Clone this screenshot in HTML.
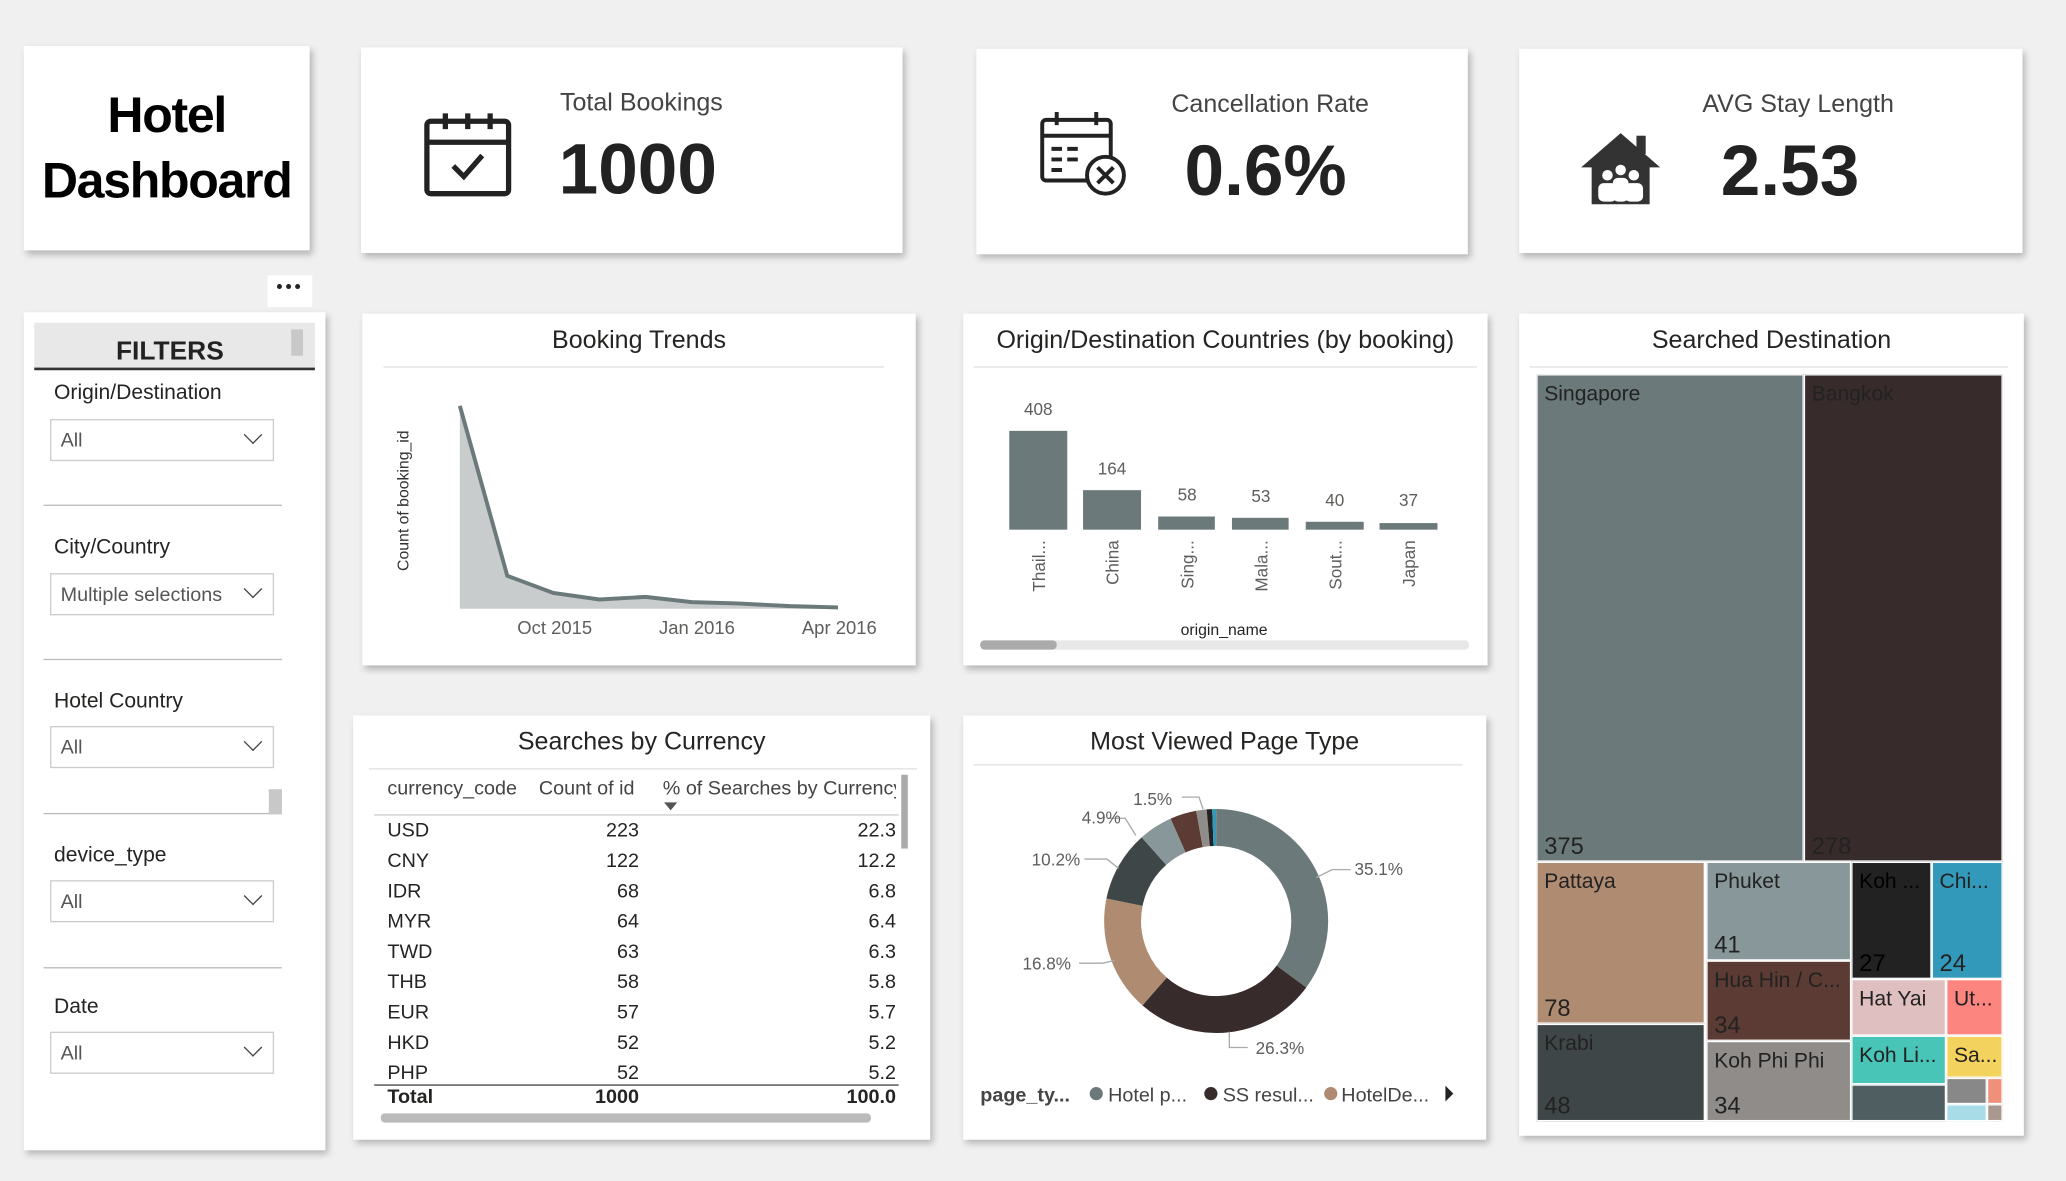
<!DOCTYPE html>
<html><head><meta charset="utf-8"><style>
*{margin:0;padding:0;box-sizing:border-box}
html,body{width:2066px;height:1180px;overflow:hidden;background:#f0f0f0}
#s{position:absolute;left:0;top:0;width:1568px;height:896px;transform:scale(1.31760);transform-origin:0 0;font-family:"Liberation Sans","DejaVu Sans",sans-serif;color:#252423}
.c{position:absolute;background:#fff;box-shadow:2px 3px 5px rgba(0,0,0,.25)}
.a{position:absolute;white-space:nowrap}
.t{position:absolute;font-size:19px;color:#252423;text-align:center;width:100%;top:10px}
.hl{position:absolute;height:1px;background:#e1e1e1}
.dd{position:absolute;left:38px;width:170px;height:32px;border:1px solid #ccc;font-size:15px;color:#555;padding:7px 0 0 7px}
.dd:after{content:"";position:absolute;right:10px;top:6px;width:9px;height:9px;border-right:1.5px solid #444;border-bottom:1.5px solid #444;transform:rotate(45deg)}
.fl{position:absolute;left:41px;font-size:16px;color:#252423}
.sep{position:absolute;left:33px;width:181px;height:1px;background:#bbb}
.tm{position:absolute;border:1px solid #fff;font-size:16px;color:#222;overflow:hidden}
.tm span{position:absolute;left:5px;top:6px}
.tm b{position:absolute;left:5px;bottom:0;font-weight:normal;font-size:18px}
.row{position:absolute;left:294px;width:386px;font-size:15px;height:23px}
.row span{position:absolute}
</style></head><body><div id="s">
<div class="c" style="left:18px;top:35px;width:217px;height:155px"><div class="a" style="left:0;width:100%;text-align:center;top:28px;font-size:38px;font-weight:bold;line-height:50px;color:#000;letter-spacing:-1px">Hotel<br>Dashboard</div></div>
<div class="c" style="left:274px;top:36px;width:411px;height:156px">
<svg class="a" style="left:47px;top:48px" width="68" height="66" viewBox="0 0 68 66"><rect x="3" y="8" width="62" height="55" rx="3" fill="none" stroke="#222" stroke-width="4"/><line x1="3" y1="24" x2="65" y2="24" stroke="#222" stroke-width="4"/><line x1="17" y1="2" x2="17" y2="14" stroke="#222" stroke-width="4"/><line x1="51" y1="2" x2="51" y2="14" stroke="#222" stroke-width="4"/><line x1="34" y1="2" x2="34" y2="14" stroke="#222" stroke-width="4"/><polyline points="23,42 31,50 45,34" fill="none" stroke="#222" stroke-width="4"/></svg>
<div class="a" style="left:151px;top:32px;font-size:19px;color:#444">Total Bookings</div>
<div class="a" style="left:150px;top:62px;font-size:54px;font-weight:bold;color:#222">1000</div></div>
<div class="c" style="left:741px;top:37px;width:373px;height:156px">
<svg class="a" style="left:47px;top:46px" width="70" height="68" viewBox="0 0 70 68"><rect x="3" y="8" width="52" height="46" rx="3" fill="none" stroke="#222" stroke-width="3"/><line x1="3" y1="20" x2="55" y2="20" stroke="#222" stroke-width="3"/><line x1="14" y1="2" x2="14" y2="12" stroke="#222" stroke-width="3"/><line x1="44" y1="2" x2="44" y2="12" stroke="#222" stroke-width="3"/><g stroke="#222" stroke-width="3"><line x1="10" y1="30" x2="18" y2="30"/><line x1="22" y1="30" x2="30" y2="30"/><line x1="10" y1="38" x2="18" y2="38"/><line x1="22" y1="38" x2="30" y2="38"/><line x1="10" y1="46" x2="18" y2="46"/></g><circle cx="51" cy="50" r="14" fill="#fff" stroke="#222" stroke-width="3"/><path d="M45 44l12 12M57 44l-12 12" stroke="#222" stroke-width="3"/></svg>
<div class="a" style="left:148px;top:32px;font-size:19px;color:#444">Cancellation Rate</div>
<div class="a" style="left:158px;top:62px;font-size:54px;font-weight:bold;color:#222">0.6%</div></div>
<div class="c" style="left:1153px;top:37px;width:382px;height:155px">
<svg class="a" style="left:45px;top:62px" width="64" height="58" viewBox="0 0 64 58"><path d="M32 2L2 28h8v28h44V28h8z" fill="#333"/><rect x="44" y="4" width="7" height="14" fill="#333"/><g fill="#fff"><circle cx="22" cy="34" r="4"/><circle cx="42" cy="34" r="4"/><circle cx="32" cy="30" r="4"/><rect x="15" y="40" width="14" height="14" rx="4"/><rect x="35" y="40" width="14" height="14" rx="4"/><rect x="26" y="36" width="12" height="18" rx="4"/></g></svg>
<div class="a" style="left:139px;top:32px;font-size:19px;color:#444">AVG Stay Length</div>
<div class="a" style="left:153px;top:62px;font-size:54px;font-weight:bold;color:#222">2.53</div></div>
<div class="a" style="left:203px;top:209px;width:34px;height:24px;background:#fff;font-size:14px;text-align:center;letter-spacing:2px">•••</div>
<div class="c" style="left:18px;top:237px;width:229px;height:636px">
<div class="a" style="left:8px;top:8px;width:213px;height:36px;background:#e8e8e8;border-bottom:2px solid #333"></div>
<div class="a" style="left:203px;top:13px;width:9px;height:20px;background:#c8c8c8"></div>
</div>
<div class="a" style="left:88px;top:256px;font-size:20px;font-weight:bold;color:#222">FILTERS</div>
<div class="fl" style="top:290px">Origin/Destination</div><div class="dd" style="top:318px">All</div><div class="sep" style="top:383px"></div>
<div class="fl" style="top:407px">City/Country</div><div class="dd" style="top:435px">Multiple selections</div><div class="sep" style="top:500px"></div>
<div class="fl" style="top:524px">Hotel Country</div><div class="dd" style="top:551px">All</div><div class="sep" style="top:617px"></div>
<div class="a" style="left:204px;top:599px;width:10px;height:19px;background:#c8c8c8"></div>
<div class="fl" style="top:641px">device_type</div><div class="dd" style="top:668px">All</div><div class="sep" style="top:734px"></div>
<div class="fl" style="top:756px">Date</div><div class="dd" style="top:783px">All</div>
<div class="c" style="left:275px;top:238px;width:420px;height:267px"><div class="t">Booking Trends</div><div class="hl" style="left:16px;right:24px;top:40px"></div></div>
<svg class="a" style="left:275px;top:238px" width="420" height="267">
<polygon points="74,70 110,199 145,212 180,217 215,215 250,219 285,220 325,222 361,223 361,224 74,224" fill="#c9cccc"/>
<polyline points="74,70 110,199 145,212 180,217 215,215 250,219 285,220 325,222 361,223" fill="none" stroke="#6b797b" stroke-width="3"/>
<text x="35" y="142" transform="rotate(-90 35 142)" font-size="12" fill="#333" text-anchor="middle">Count of booking_id</text>
<g font-size="14" fill="#605e5c" text-anchor="middle"><text x="146" y="243">Oct 2015</text><text x="254" y="243">Jan 2016</text><text x="362" y="243">Apr 2016</text></g>
</svg>
<div class="c" style="left:731px;top:238px;width:398px;height:267px"><div class="t" style="font-size:19px">Origin/Destination Countries (by booking)</div><div class="hl" style="left:8px;right:8px;top:40px"></div></div>
<svg class="a" style="left:731px;top:238px" width="398" height="267">
<g fill="#6b797b"><rect x="35" y="89" width="44" height="75"/><rect x="91" y="134" width="44" height="30"/><rect x="148" y="154" width="43" height="10"/><rect x="204" y="155" width="43" height="9"/><rect x="260" y="158" width="44" height="6"/><rect x="316" y="159" width="44" height="5"/></g>
<g font-size="13" fill="#605e5c" text-anchor="middle"><text x="57" y="77">408</text><text x="113" y="122">164</text><text x="170" y="142">58</text><text x="226" y="143">53</text><text x="282" y="146">40</text><text x="338" y="146">37</text></g>
<g font-size="13" fill="#605e5c" text-anchor="end"><text transform="translate(62,172) rotate(-90)">Thail...</text><text transform="translate(118,172) rotate(-90)">China</text><text transform="translate(175,172) rotate(-90)">Sing...</text><text transform="translate(231,172) rotate(-90)">Mala...</text><text transform="translate(287,172) rotate(-90)">Sout...</text><text transform="translate(343,172) rotate(-90)">Japan</text></g>
<text x="198" y="244" font-size="12" fill="#252423" text-anchor="middle">origin_name</text>
<rect x="13" y="248" width="371" height="7" rx="3" fill="#e8e8e8"/><rect x="13" y="248" width="58" height="7" rx="3" fill="#aaa"/>
</svg>
<div class="c" style="left:1153px;top:238px;width:383px;height:624px"><div class="t">Searched Destination</div><div class="hl" style="left:8px;right:12px;top:40px"></div></div>
<div class="tm" style="left:1166px;top:284px;width:203px;height:370px;background:#6b797b"><span>Singapore</span><b>375</b></div>
<div class="tm" style="left:1369px;top:284px;width:151px;height:370px;background:#372b2b"><span>Bangkok</span><b>278</b></div>
<div class="tm" style="left:1166px;top:654px;width:128px;height:123px;background:#ae8b71"><span>Pattaya</span><b>78</b></div>
<div class="tm" style="left:1166px;top:777px;width:128px;height:74px;background:#3f4647"><span>Krabi</span><b>48</b></div>
<div class="tm" style="left:1295px;top:654px;width:110px;height:75px;background:#87979a"><span>Phuket</span><b>41</b></div>
<div class="tm" style="left:1295px;top:729px;width:110px;height:61px;background:#5b3b33"><span>Hua Hin / C...</span><b>34</b></div>
<div class="tm" style="left:1295px;top:790px;width:110px;height:61px;background:#8f8c8a"><span>Koh Phi Phi</span><b>34</b></div>
<div class="tm" style="left:1405px;top:654px;width:61px;height:89px;background:#222;color:#000"><span>Koh ...</span><b>27</b></div>
<div class="tm" style="left:1466px;top:654px;width:54px;height:89px;background:#3399bb"><span>Chi...</span><b>24</b></div>
<div class="tm" style="left:1405px;top:743px;width:72px;height:43px;background:#dfbfbf"><span>Hat Yai</span></div>
<div class="tm" style="left:1477px;top:743px;width:43px;height:43px;background:#fd8580"><span>Ut...</span></div>
<div class="tm" style="left:1405px;top:786px;width:72px;height:37px;background:#49c5b8"><span>Koh Li...</span></div>
<div class="tm" style="left:1477px;top:786px;width:43px;height:32px;background:#f3d25e"><span>Sa...</span></div>
<div class="tm" style="left:1405px;top:823px;width:72px;height:28px;background:#4f5e60"></div>
<div class="tm" style="left:1477px;top:818px;width:31px;height:20px;background:#888"></div>
<div class="tm" style="left:1508px;top:818px;width:12px;height:20px;background:#f0907a"></div>
<div class="tm" style="left:1477px;top:838px;width:31px;height:13px;background:#a8dde8"></div>
<div class="tm" style="left:1508px;top:838px;width:12px;height:13px;background:#a89890"></div>
<div class="c" style="left:268px;top:543px;width:438px;height:322px"><div class="t">Searches by Currency</div><div class="hl" style="left:12px;right:10px;top:40px"></div></div>
<div class="a" style="left:294px;top:590px;font-size:15px;color:#444">currency_code</div>
<div class="a" style="left:409px;top:590px;font-size:15px;color:#444">Count of id</div>
<div class="a" style="left:503px;top:590px;width:177px;overflow:hidden;font-size:15px;color:#444">% of Searches by Currency</div>
<div class="a" style="left:504px;top:609px;width:0;height:0;border-left:5px solid transparent;border-right:5px solid transparent;border-top:6px solid #555"></div>
<div class="a" style="left:684px;top:588px;width:5px;height:56px;background:#aaa"></div>
<div class="hl" style="left:284px;width:398px;top:618px;background:#ccc"></div>
<div style="position:absolute;left:0;top:0;height:826px;width:700px;overflow:hidden">
<div class="row" style="top:622px"><span style="left:0">USD</span><span style="right:195px">223</span><span style="right:0">22.3</span></div>
<div class="row" style="top:645px"><span style="left:0">CNY</span><span style="right:195px">122</span><span style="right:0">12.2</span></div>
<div class="row" style="top:668px"><span style="left:0">IDR</span><span style="right:195px">68</span><span style="right:0">6.8</span></div>
<div class="row" style="top:691px"><span style="left:0">MYR</span><span style="right:195px">64</span><span style="right:0">6.4</span></div>
<div class="row" style="top:714px"><span style="left:0">TWD</span><span style="right:195px">63</span><span style="right:0">6.3</span></div>
<div class="row" style="top:737px"><span style="left:0">THB</span><span style="right:195px">58</span><span style="right:0">5.8</span></div>
<div class="row" style="top:760px"><span style="left:0">EUR</span><span style="right:195px">57</span><span style="right:0">5.7</span></div>
<div class="row" style="top:783px"><span style="left:0">HKD</span><span style="right:195px">52</span><span style="right:0">5.2</span></div>
<div class="row" style="top:806px"><span style="left:0">PHP</span><span style="right:195px">52</span><span style="right:0">5.2</span></div>
</div>
<div class="hl" style="left:284px;width:398px;top:823px;background:#444"></div>
<div class="row" style="top:824px;font-weight:bold"><span style="left:0">Total</span><span style="right:195px">1000</span><span style="right:0">100.0</span></div>
<div class="a" style="left:289px;top:845px;width:372px;height:7px;border-radius:3px;background:#bbb"></div>
<div class="c" style="left:731px;top:543px;width:397px;height:322px"><div class="t">Most Viewed Page Type</div><div class="hl" style="left:8px;right:18px;top:37px"></div></div>
<svg class="a" style="left:731px;top:543px" width="397" height="322">
<g transform="translate(192,156) rotate(-90)" fill="none" stroke-width="28">
<circle r="71" stroke="#6b797b" stroke-dasharray="156.6 446.1" stroke-dashoffset="0"/>
<circle r="71" stroke="#372b2b" stroke-dasharray="117.3 446.1" stroke-dashoffset="-156.6"/>
<circle r="71" stroke="#ae8b71" stroke-dasharray="74.9 446.1" stroke-dashoffset="-273.9"/>
<circle r="71" stroke="#3f4647" stroke-dasharray="45.5 446.1" stroke-dashoffset="-348.8"/>
<circle r="71" stroke="#87979a" stroke-dasharray="21.9 446.1" stroke-dashoffset="-394.3"/>
<circle r="71" stroke="#5b3b33" stroke-dasharray="17 446.1" stroke-dashoffset="-416.2"/>
<circle r="71" stroke="#8f8c8a" stroke-dasharray="6.7 446.1" stroke-dashoffset="-433.2"/>
<circle r="71" stroke="#222" stroke-dasharray="3.5 446.1" stroke-dashoffset="-439.9"/>
<circle r="71" stroke="#3399bb" stroke-dasharray="2.7 446.1" stroke-dashoffset="-443.4"/>
</g>
<g stroke="#aaa" fill="none"><polyline points="268,123 280,117 294,117"/><polyline points="202,240 202,252 216,252"/><polyline points="88,188 106,188 115,186"/><polyline points="92,109 109,109 118,116"/><polyline points="110,78 123,78 131,91"/><polyline points="166,62 179,62 182,71"/></g>
<g font-size="13" fill="#605e5c"><text x="297" y="121">35.1%</text><text x="222" y="257">26.3%</text><text x="45" y="193">16.8%</text><text x="52" y="114">10.2%</text><text x="90" y="82">4.9%</text><text x="129" y="68">1.5%</text></g>
<g font-size="15" fill="#444"><text x="13" y="293" font-weight="bold">page_ty...</text><circle cx="101" cy="287" r="5" fill="#6b797b"/><text x="110" y="293">Hotel p...</text><circle cx="188" cy="287" r="5" fill="#372b2b"/><text x="197" y="293">SS resul...</text><circle cx="279" cy="287" r="5" fill="#ae8b71"/><text x="287" y="293">HotelDe...</text><polygon points="366,281 372,287 366,293" fill="#222"/></g>
</svg>
</div></body></html>
